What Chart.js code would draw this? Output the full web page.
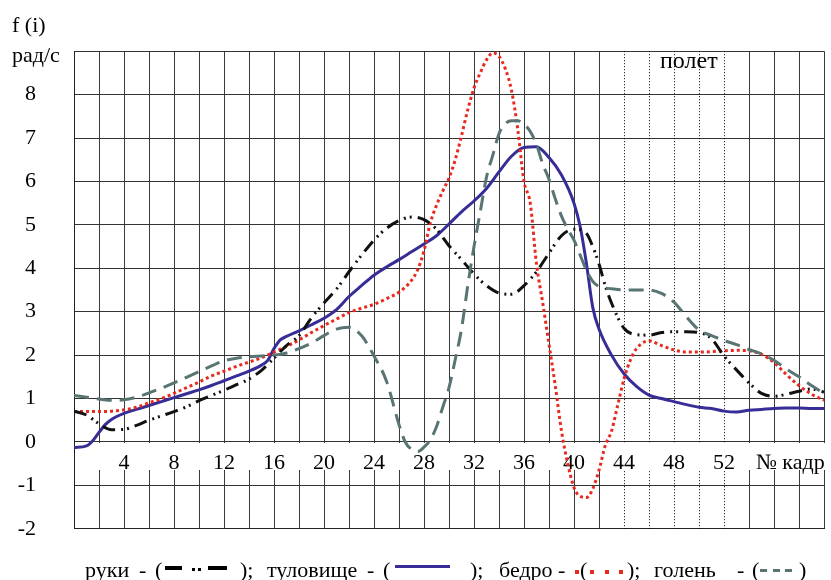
<!DOCTYPE html>
<html>
<head>
<meta charset="utf-8">
<script src="https://cdn.jsdelivr.net/npm/chart.js@4"></script>
<style>
  html, body { margin: 0; padding: 0; background: #fff; }
  #wrap { width: 831px; height: 580px; position: relative; }
</style>
</head>
<body>
<div id="wrap"><canvas id="chart"></canvas></div>
<script>
// руки
const armsFrames = [0,1,2,3,4,5,6,7,8,9,10,11,12,13,14,15,16,17,18,19,20,21,22,23,24,25,26,27,28,29,30,31,32,33,34,35,36,37,38,39,40,41,41.5,42,42.5,43,44,45,46,47,48,49,50,51,52,53,54,55,56,57,58,59,60];
const armsValues = [0.71,0.62,0.42,0.28,0.29,0.38,0.5,0.6,0.7,0.81,0.95,1.07,1.19,1.32,1.45,1.65,1.93,2.22,2.45,2.86,3.2,3.52,3.92,4.3,4.65,4.92,5.1,5.18,5.12,4.9,4.52,4.2,3.87,3.6,3.43,3.4,3.6,3.92,4.35,4.75,4.9,4.8,4.5,4.1,3.6,3.2,2.62,2.47,2.46,2.52,2.54,2.54,2.52,2.38,1.98,1.66,1.36,1.12,1.05,1.1,1.17,1.22,1.15];

// туловище
const torsoFrames = [0,1,1.5,2,2.5,3,4,5,6,7,8,9,10,11,12,13,14,15,15.5,16,16.5,17,18,19,20,21,22,23,24,25,26,27,28,29,30,31,32,33,34,35,36,37,38,39,40,40.5,41,41.5,42,43,44,45,46,47,48,49,50,51,52,53,54,55,56,57,58,59,60];
const torsoValues = [-0.13,-0.09,0.03,0.22,0.4,0.52,0.66,0.75,0.84,0.93,1.02,1.11,1.2,1.3,1.41,1.52,1.63,1.77,1.88,2.15,2.35,2.43,2.56,2.7,2.85,3.05,3.35,3.6,3.84,4.03,4.2,4.38,4.56,4.75,5.02,5.3,5.55,5.84,6.22,6.58,6.78,6.8,6.55,6.15,5.5,4.95,4.1,3.1,2.6,2.0,1.57,1.28,1.08,1.0,0.93,0.86,0.8,0.77,0.71,0.69,0.73,0.75,0.77,0.78,0.78,0.77,0.77];

// бедро
const thighFrames = [0,1,2,3,4,5,6,7,8,9,10,11,12,13,14,15,16,17,18,19,20,21,22,23,24,25,26,27,27.5,28,28.5,29,29.5,30,30.5,31,31.5,32,32.5,33,33.5,34,34.5,35,35.5,36,36.5,37,37.5,38,38.5,39,39.5,40,40.5,41,41.5,42,42.5,43,43.5,44,44.5,45,46,47,48,49,50,51,52,53,54,55,56,57,58,59,60];
const thighValues = [0.7,0.7,0.7,0.71,0.74,0.8,0.9,1.0,1.12,1.25,1.38,1.52,1.63,1.74,1.84,1.94,2.07,2.2,2.35,2.52,2.68,2.83,2.98,3.08,3.17,3.3,3.45,3.72,3.97,4.4,5.04,5.45,5.78,6.08,6.5,7.05,7.65,8.15,8.5,8.8,8.96,8.88,8.6,8.1,7.2,6.0,5.5,4.1,3.2,2.25,1.3,0.25,-0.5,-1.05,-1.25,-1.28,-1.08,-0.65,-0.08,0.25,0.85,1.45,1.88,2.15,2.33,2.22,2.12,2.07,2.07,2.08,2.1,2.11,2.1,2.02,1.83,1.55,1.3,1.1,0.96];

// голень
const shinFrames = [0,1,2,3,4,5,6,7,8,9,10,11,12,13,14,15,16,17,18,19,20,21,22,23,24,25,26,26.5,27,27.5,28,28.5,29,29.5,30,30.5,31,31.5,32,32.5,33,33.5,34,34.5,35,35.5,36,36.5,37,37.5,38,38.5,39,39.5,40,40.5,41,41.5,42,43,44,45,46,47,48,49,50,51,52,53,54,55,56,57,58,59,60];
const shinValues = [1.07,1.03,0.99,0.96,0.97,1.03,1.13,1.24,1.36,1.49,1.62,1.75,1.87,1.93,1.96,1.98,2.0,2.05,2.15,2.28,2.45,2.6,2.64,2.45,1.98,1.4,0.4,0.0,-0.17,-0.22,-0.12,0.05,0.35,0.8,1.25,1.9,2.6,3.6,4.5,5.3,6.1,6.6,7.1,7.33,7.4,7.4,7.32,7.15,6.85,6.4,6.05,5.6,5.2,4.9,4.65,4.3,3.95,3.7,3.58,3.53,3.5,3.5,3.5,3.42,3.22,2.88,2.58,2.45,2.34,2.24,2.13,2.03,1.88,1.68,1.5,1.3,1.12];

const xTickLabels = [4,8,12,16,20,24,28,32,36,40,44,48,52];
const flightLines = [44,46,48,50,52];

const serif = "'Liberation Serif', 'Times New Roman', 'DejaVu Serif', serif";
const toPoints = (xs, ys) => xs.map((f, i) => ({x: f, y: ys[i]}));

const overlay = {
    id: 'overlay',
    beforeDatasetsDraw(chart) {
        const {ctx, chartArea: a, scales: {x, y}} = chart;
        ctx.save();
        // пунктирные линии фазы полета
        ctx.strokeStyle = '#000';
        ctx.lineWidth = 1;
        ctx.setLineDash([1, 2]);
        flightLines.forEach(f => {
            const px = Math.round(x.getPixelForValue(f)) + 0.5;
            ctx.beginPath();
            ctx.moveTo(px, a.top);
            ctx.lineTo(px, a.bottom);
            ctx.stroke();
        });
        ctx.setLineDash([]);
        // белая полоса под подписями оси x
        const y0 = Math.round(y.getPixelForValue(0));
        ctx.fillStyle = '#fff';
        ctx.fillRect(a.left + 1, y0 + 1, a.right - a.left + 6, 27);
        ctx.fillStyle = '#000';
        ctx.font = '22px ' + serif;
        ctx.textAlign = 'center';
        ctx.textBaseline = 'alphabetic';
        xTickLabels.forEach(t => ctx.fillText(String(t), x.getPixelForValue(t), y0 + 27));
        ctx.fillText('№ кадр', x.getPixelForValue(57.3), y0 + 27);
        ctx.font = '24px ' + serif;
        ctx.textAlign = 'left';
        ctx.fillText('полет', 660, 68);
        ctx.restore();
    },
    afterDraw(chart) {
        const ctx = chart.ctx;
        ctx.save();
        ctx.fillStyle = '#000';
        ctx.font = '22px ' + serif;
        ctx.textAlign = 'left';
        ctx.textBaseline = 'alphabetic';
        ctx.fillText('f (i)', 12, 32);
        ctx.fillText('рад/с', 12, 62);

        const base = 577;
        const txt = (s, x) => ctx.fillText(s, x, base);
        txt('руки', 85); txt('-', 139); txt('(', 155);
        ctx.fillRect(165, 566, 17, 4);
        ctx.fillRect(192, 568, 3, 3);
        ctx.fillRect(198, 568, 3, 3);
        ctx.fillRect(208, 566, 19, 4);
        txt(');', 240);
        txt('туловище', 267); txt('-', 367); txt('(', 383);
        ctx.fillStyle = '#372d96';
        ctx.fillRect(395, 565, 55, 3);
        ctx.fillStyle = '#000';
        txt(');', 470);
        txt('бедро', 499); txt('-', 558);
        ctx.fillStyle = '#e8291f';
        ctx.fillRect(575, 570, 4, 4);
        ctx.fillStyle = '#000';
        txt('(', 580);
        ctx.fillStyle = '#e8291f';
        [590, 605, 619].forEach(px => ctx.fillRect(px, 570, 4, 4));
        ctx.fillStyle = '#000';
        txt(');', 627);
        txt('голень', 654); txt('-', 737); txt('(', 752);
        ctx.fillStyle = '#587573';
        [760, 773, 785].forEach(px => ctx.fillRect(px, 569, 7, 3));
        ctx.fillStyle = '#000';
        txt(')', 799);
        ctx.restore();
    }
};

new Chart(document.getElementById('chart'), {
    type: 'line',
    data: {
        datasets: [{
            label: 'голень',
            data: toPoints(shinFrames, shinValues),
            borderColor: '#587573',
            borderWidth: 3,
            borderDash: [15, 8],
            cubicInterpolationMode: 'monotone',
            pointRadius: 0
        }, {
            label: 'руки',
            data: toPoints(armsFrames, armsValues),
            borderColor: '#111',
            borderWidth: 3,
            borderDash: [13, 6, 2, 4, 2, 6],
            cubicInterpolationMode: 'monotone',
            pointRadius: 0
        }, {
            label: 'бедро',
            data: toPoints(thighFrames, thighValues),
            borderColor: '#e8291f',
            borderWidth: 3,
            borderDash: [3, 3],
            cubicInterpolationMode: 'monotone',
            pointRadius: 0
        }, {
            label: 'туловище',
            data: toPoints(torsoFrames, torsoValues),
            borderColor: '#372d96',
            borderWidth: 3,
            cubicInterpolationMode: 'monotone',
            pointRadius: 0
        }]
    },
    options: {
        responsive: true,
        maintainAspectRatio: false,
        animation: false,
        events: [],
        layout: {
            padding: {top: 42, right: 7, bottom: 40, left: 0}
        },
        plugins: {
            legend: {display: false},
            tooltip: {enabled: false}
        },
        scales: {
            x: {
                type: 'linear',
                min: 0,
                max: 60,
                afterFit: s => { s.height = 0; },
                ticks: {display: false, stepSize: 2},
                border: {color: '#222'},
                grid: {
                    drawTicks: false,
                    color: c => flightLines.includes(c.tick.value) ? 'rgba(0,0,0,0)' : '#3a3a3a'
                }
            },
            y: {
                min: -2,
                max: 9,
                afterFit: s => { s.width = 74; },
                border: {color: '#222'},
                grid: {drawTicks: false, color: '#333'},
                ticks: {
                    stepSize: 1,
                    padding: 38,
                    color: '#000',
                    font: {family: serif, size: 22},
                    callback: v => v === 9 ? '' : String(v)
                }
            }
        }
    },
    plugins: [overlay]
});
</script>
</body>
</html>
